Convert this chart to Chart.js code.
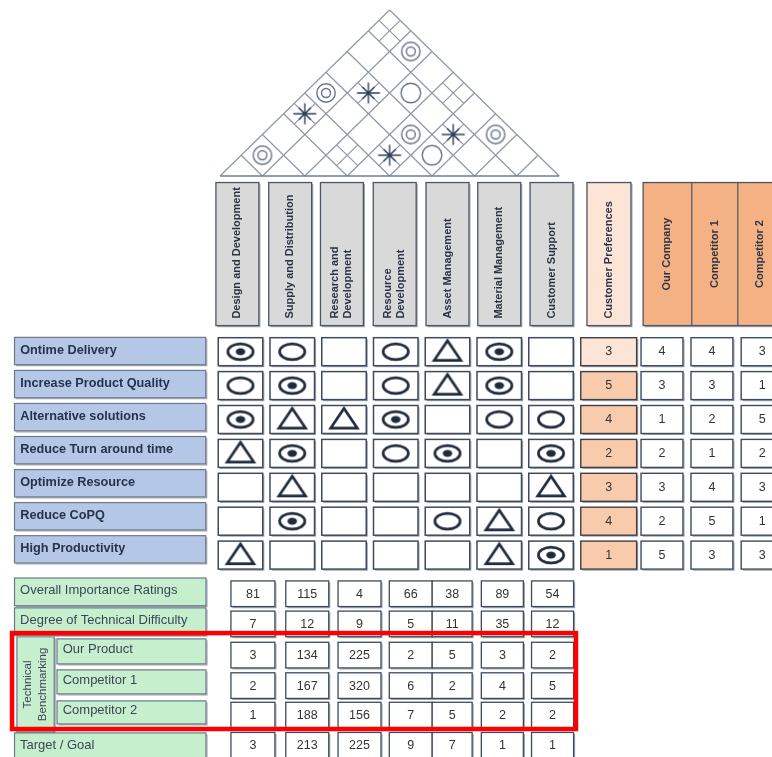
<!DOCTYPE html>
<html><head><meta charset="utf-8">
<script src="https://cdn.jsdelivr.net/npm/chart.js@4.4.1/dist/chart.umd.min.js"></script>
<style>html,body{margin:0;padding:0;background:#fff;}#wrap{width:772px;height:757px;}canvas{display:block;}</style>
</head><body><div id="wrap"><canvas id="c" width="772" height="757"></canvas></div>
<script>
// ---------------- DATA ----------------
const technicalRequirements = [["Design and Development"],["Supply and Distribution"],["Research and","Development"],["Resource","Development"],["Asset Management"],["Material Management"],["Customer Support"]];
const customerNeeds = ["Ontime Delivery","Increase Product Quality","Alternative solutions","Reduce Turn around time","Optimize Resource","Reduce CoPQ","High Productivity"];
// 9 = strong (dotted circle), 3 = medium (circle), 1 = weak (triangle), 0 = none
const relationships = [
  [9,3,0,3,1,9,0],
  [3,9,0,3,1,9,0],
  [9,1,1,9,0,3,3],
  [1,9,0,3,9,0,9],
  [0,1,0,0,0,0,1],
  [0,9,0,0,3,1,3],
  [1,0,0,0,0,1,9]
];
const preferenceHeader = "Customer Preferences";
const customerPreferences = [3,5,4,2,3,4,1];
const assessmentLabels = ["Our Company","Competitor 1","Competitor 2"];
const ourCompany  = [4,3,1,2,3,2,5];
const competitor1 = [4,3,2,1,4,5,3];
const competitor2 = [3,1,5,2,3,1,3];
const bottomRowLabels = ["Overall Importance Ratings","Degree of Technical Difficulty","Our Product","Competitor 1","Competitor 2","Target / Goal"];
const benchmarkGroupLabel = ["Technical","Benchmarking"];
const overallImportance   = [81,115,4,66,38,89,54];
const technicalDifficulty = [7,12,9,5,11,35,12];
const benchOurProduct     = [3,134,225,2,5,3,2];
const benchCompetitor1    = [2,167,320,6,2,4,5];
const benchCompetitor2    = [1,188,156,7,5,2,2];
const targetGoal          = [3,213,225,9,7,1,1];
// roof correlation cells [a, b, kind]
const roofCorrelations = [[0,1,'strong'],[0,3,'star'],[0,4,'strong'],[1,5,'star'],[1,7,'strong'],[2,6,'medium'],[3,5,'strong'],[3,4,'star'],[4,5,'medium'],[4,6,'star'],[5,7,'strong']];
const roofSplitCells = [[0,7],[3,7],[2,3]];
const roofColumns = 8;

// ---------------- LAYOUT (scale units) ----------------
const L = {
  bodyHalfW: 0.43, bodyHalfH: 0.413,
  headerTop: -4.99, headerBottom: -0.77, headerHalfW: 0.415,
  headerShift: [-0.06,-0.04,-0.04,-0.02,0,0,0.01],
  labelLeft: -4.367, labelRight: -0.672, labelText: -4.256,
  labelPitch: 0.975, labelOffset: -0.02, labelHalfH: 0.403,
  cpCenter: 7.115, cpHalfW: 0.54, cpHeadCenter: 7.12, cpHeadHalfW: 0.425,
  assessCenters: [8.145, 9.11, 10.08], assessHalfW: 0.405,
  orangeLeft: 7.78, orangeDividers: [8.72, 9.61], orangeRight: 10.6,
  orangeTextCenters: [8.25, 9.165, 10.04],
  bottomRowCenters: [7.14, 8.03, 8.95, 9.85, 10.72, 11.61], bottomHalfH: 0.378,
  bottomColCenters: [0.24, 1.29, 2.30, 3.29, 4.09, 5.06, 6.03],
  bottomColHalfW: [0.425, 0.415, 0.415, 0.415, 0.386, 0.406, 0.406],
  greenCenters: [7.084, 7.96, 8.84, 9.74, 10.64, 11.646],
  greenHalfH: [0.409, 0.403, 0.369, 0.354, 0.34, 0.40],
  greenIndent: [false, false, true, true, true, false],
  greenLeft: -4.367, greenSubLeft: -3.546, greenRight: -0.667,
  greenText: -4.26, greenSubText: -3.436,
  techLeft: -4.32, techRight: -3.60, techTop: 8.41, techBottom: 11.22,
  redLeft: -4.415, redRight: 6.483, redTop: 8.30, redBottom: 11.13
};
const FONT = '"Liberation Sans", Arial, sans-serif';
const INK = '#1f2b3d';

// ---------------- symbol images ----------------
function makeImg(w, h, draw){ const c=document.createElement('canvas'); c.width=w; c.height=h; const g=c.getContext('2d'); draw(g, w/2, h/2); return c; }
const imgStrong = makeImg(34, 26, (g,cx,cy)=>{ g.strokeStyle=INK; g.lineWidth=2.7; g.beginPath(); g.ellipse(cx,cy,12.6,7.9,0,0,Math.PI*2); g.stroke(); g.fillStyle=INK; g.beginPath(); g.ellipse(cx,cy,4.8,3.4,0,0,Math.PI*2); g.fill(); });
const imgMedium = makeImg(34, 26, (g,cx,cy)=>{ g.strokeStyle=INK; g.lineWidth=2.7; g.beginPath(); g.ellipse(cx,cy,12.6,7.9,0,0,Math.PI*2); g.stroke(); });
const imgWeak = makeImg(36, 30, (g,cx,cy)=>{ g.strokeStyle=INK; g.lineWidth=2.7; g.lineJoin='miter'; g.beginPath(); g.moveTo(cx-13.3,cy+8.6); g.lineTo(cx+13.3,cy+8.6); g.lineTo(cx,cy-11); g.closePath(); g.stroke(); });
const ROOFSYM = '#66738a';
const imgRoofStrong = makeImg(24, 24, (g,cx,cy)=>{ g.strokeStyle=ROOFSYM; g.lineWidth=1.4; g.beginPath(); g.arc(cx,cy,9.2,0,Math.PI*2); g.stroke(); g.beginPath(); g.arc(cx,cy,4.5,0,Math.PI*2); g.stroke(); });
const imgRoofMedium = makeImg(26, 26, (g,cx,cy)=>{ g.strokeStyle=ROOFSYM; g.lineWidth=1.4; g.beginPath(); g.arc(cx,cy,9.8,0,Math.PI*2); g.stroke(); });
const imgRoofStar = makeImg(28, 28, (g,cx,cy)=>{ g.strokeStyle='#33405a'; g.lineWidth=1.4; g.beginPath();
  g.moveTo(cx,cy-10.5); g.lineTo(cx,cy+10.5); g.moveTo(cx-11.5,cy); g.lineTo(cx+11.5,cy);
  g.moveTo(cx-6,cy-6); g.lineTo(cx+6,cy+6); g.moveTo(cx+6,cy-6); g.lineTo(cx-6,cy+6); g.stroke();
  g.fillStyle='#33405a'; g.beginPath(); g.arc(cx,cy,1.6,0,Math.PI*2); g.fill(); });

// ---------------- datasets ----------------
function relPoints(code){ const pts=[]; relationships.forEach((row,r)=>row.forEach((v,c)=>{ if(v===code) pts.push({x:c,y:r}); })); return pts; }
function roofPoints(kind){ return roofCorrelations.filter(d=>d[2]===kind).map(d=>({x:d[0]+d[1]+1, y:d[1]-d[0]})); }
const ds = (data, img, xa, ya) => ({data, pointStyle:img, pointRadius:3, pointHoverRadius:3, xAxisID:xa, yAxisID:ya, clip:false});

// ---------------- drawing helpers ----------------
function cell(ctx, x0, y0, x1, y1, fill, stroke, lw){
  ctx.fillStyle = fill; ctx.fillRect(x0, y0, x1-x0, y1-y0);
  ctx.strokeStyle = '#a3a8b1'; ctx.lineWidth = 1.2; ctx.beginPath();
  ctx.moveTo(x1+1, y0+1.5); ctx.lineTo(x1+1, y1+1); ctx.lineTo(x0+1.5, y1+1); ctx.stroke();
  ctx.strokeStyle = stroke; ctx.lineWidth = lw; ctx.strokeRect(x0, y0, x1-x0, y1-y0);
}
function vtext(ctx, lines, x, y, align, font, color, gap){
  ctx.save(); ctx.translate(x, y); ctx.rotate(-Math.PI/2);
  ctx.font = font; ctx.fillStyle = color; ctx.textAlign = align; ctx.textBaseline = 'middle';
  const n = lines.length;
  lines.forEach((t,i)=>{ ctx.fillText(t, align==='left'?6:0, (i-(n-1)/2)*gap); });
  ctx.restore();
}

const housePlugin = {
  id: 'house',
  beforeDatasetsDraw(chart){
    const ctx = chart.ctx, X = chart.scales.x, Y = chart.scales.y, RX = chart.scales.rx, RY = chart.scales.ry;
    const xp = v => X.getPixelForValue(v), yp = v => Y.getPixelForValue(v);
    const P = (u,v) => [RX.getPixelForValue(u), RY.getPixelForValue(v)];
    ctx.save();
    ctx.fillStyle = '#fff'; ctx.fillRect(0,0,chart.width,chart.height);
    // ---- roof ----
    const N = roofColumns;
    const seg = (a,b,c,d) => { const p=P(a,b), q=P(c,d); ctx.moveTo(p[0],p[1]); ctx.lineTo(q[0],q[1]); };
    ctx.strokeStyle = '#8e98a8'; ctx.lineWidth = 1.2; ctx.beginPath();
    seg(0,0,N,N); seg(2*N,0,N,N);
    for(let k=1;k<N;k++){ seg(2*k,0,N+k,N-k); seg(2*k,0,k,k); }
    const split = roofSplitCells.concat(roofCorrelations.filter(d=>d[2]==='star').map(d=>[d[0],d[1]]));
    split.forEach(([a,b])=>{
      const s = 2*a+1; seg((s+2*b)/2,(2*b-s)/2,(s+2*b+2)/2,(2*b+2-s)/2);
      const t = 2*b+1; seg((2*a+t)/2,(t-2*a)/2,(2*a+2+t)/2,(t-2*a-2)/2);
    });
    ctx.stroke();
    ctx.strokeStyle = '#717d90'; ctx.lineWidth = 1.5; ctx.beginPath(); seg(0,0,2*N,0); ctx.stroke();
    // ---- technical requirement headers ----
    const hTop = yp(L.headerTop), hBot = yp(L.headerBottom);
    technicalRequirements.forEach((lines,k)=>{
      const c = k + L.headerShift[k];
      cell(ctx, xp(c-L.headerHalfW), hTop, xp(c+L.headerHalfW), hBot, '#d9d9d9', '#4b5566', 1.3);
      vtext(ctx, lines, xp(c), hBot-1, 'left', 'bold 11px '+FONT, '#2b3446', 13);
    });
    cell(ctx, xp(L.cpHeadCenter-L.cpHeadHalfW), hTop, xp(L.cpHeadCenter+L.cpHeadHalfW), hBot, '#fce4d6', '#4b5566', 1.3);
    vtext(ctx, [preferenceHeader], xp(L.cpHeadCenter), hBot-1, 'left', 'bold 11px '+FONT, '#2b3446', 13);
    cell(ctx, xp(L.orangeLeft), hTop, xp(L.orangeRight), hBot, '#f4b183', '#4b5566', 1.3);
    ctx.strokeStyle = '#4b5566'; ctx.lineWidth = 1.2; ctx.beginPath();
    L.orangeDividers.forEach(d=>{ ctx.moveTo(xp(d), hTop); ctx.lineTo(xp(d), hBot); }); ctx.stroke();
    assessmentLabels.forEach((t,i)=> vtext(ctx, [t], xp(L.orangeTextCenters[i]), (hTop+hBot)/2, 'center', 'bold 11px '+FONT, '#2b3446', 13));
    // ---- body rows ----
    const assess = [ourCompany, competitor1, competitor2];
    customerNeeds.forEach((name,r)=>{
      const y0 = yp(r-L.bodyHalfH), y1 = yp(r+L.bodyHalfH);
      const lc = r*L.labelPitch + L.labelOffset;
      cell(ctx, xp(L.labelLeft), yp(lc-L.labelHalfH), xp(L.labelRight), yp(lc+L.labelHalfH), '#b4c7e7', '#6d7889', 1.2);
      ctx.font = 'bold 12.7px '+FONT; ctx.fillStyle = '#26334a'; ctx.textAlign='left'; ctx.textBaseline='middle';
      ctx.fillText(name, xp(L.labelText), yp(lc)-1);
      for(let c=0;c<7;c++) cell(ctx, xp(c-L.bodyHalfW), y0, xp(c+L.bodyHalfW), y1, '#ffffff', '#3e4a5e', 1.5);
      cell(ctx, xp(L.cpCenter-L.cpHalfW), y0, xp(L.cpCenter+L.cpHalfW), y1, r===0?'#fce4d6':'#f8cbad', '#3f3f46', 1.4);
      ctx.font = '12.5px '+FONT; ctx.fillStyle = '#333'; ctx.textAlign='center';
      ctx.fillText(String(customerPreferences[r]), xp(L.cpCenter), yp(r));
      assess.forEach((arr,i)=>{
        const cx = L.assessCenters[i];
        cell(ctx, xp(cx-L.assessHalfW), y0, xp(cx+L.assessHalfW), y1, '#ffffff', '#3e4a5e', 1.4);
        ctx.fillStyle = '#333'; ctx.fillText(String(arr[r]), xp(cx), yp(r));
      });
    });
    // ---- bottom rows ----
    const bottomRows = [overallImportance, technicalDifficulty, benchOurProduct, benchCompetitor1, benchCompetitor2, targetGoal];
    cell(ctx, xp(L.techLeft), yp(L.techTop), xp(L.techRight), yp(L.techBottom), '#c6efce', '#6d7889', 1.2);
    vtext(ctx, benchmarkGroupLabel, xp((L.techLeft+L.techRight)/2), yp((L.techTop+L.techBottom)/2), 'center', '11.5px '+FONT, '#3b4757', 15);
    bottomRowLabels.forEach((name,i)=>{
      const gc = L.greenCenters[i], gh = L.greenHalfH[i];
      const left = L.greenIndent[i] ? L.greenSubLeft : L.greenLeft;
      cell(ctx, xp(left), yp(gc-gh), xp(L.greenRight), yp(gc+gh), '#c6efce', '#6d7889', 1.2);
      ctx.font = '13px '+FONT; ctx.fillStyle = '#3b4757'; ctx.textAlign='left'; ctx.textBaseline='middle';
      ctx.fillText(name, xp(L.greenIndent[i] ? L.greenSubText : L.greenText), yp(gc)-1.5);
      const ry = L.bottomRowCenters[i];
      bottomRows[i].forEach((v,c)=>{
        const cx = L.bottomColCenters[c], hw = L.bottomColHalfW[c];
        cell(ctx, xp(cx-hw), yp(ry-L.bottomHalfH), xp(cx+hw), yp(ry+L.bottomHalfH), '#ffffff', '#3e4a5e', 1.3);
        ctx.font = '12.5px '+FONT; ctx.fillStyle = '#333'; ctx.textAlign='center';
        ctx.fillText(String(v), xp(cx), yp(ry)+0.5);
      });
    });
    ctx.restore();
  },
  afterDatasetsDraw(chart){
    const ctx = chart.ctx, X = chart.scales.x, Y = chart.scales.y;
    ctx.save(); ctx.strokeStyle = '#ff0000'; ctx.lineWidth = 4.5;
    const x0 = X.getPixelForValue(L.redLeft), x1 = X.getPixelForValue(L.redRight);
    const y0 = Y.getPixelForValue(L.redTop), y1 = Y.getPixelForValue(L.redBottom);
    ctx.strokeRect(x0, y0, x1-x0, y1-y0); ctx.restore();
  }
};

new Chart(document.getElementById('c'), {
  type: 'scatter',
  data: { datasets: [
    ds(relPoints(9), imgStrong, 'x', 'y'),
    ds(relPoints(3), imgMedium, 'x', 'y'),
    ds(relPoints(1), imgWeak, 'x', 'y'),
    ds(roofPoints('strong'), imgRoofStrong, 'rx', 'ry'),
    ds(roofPoints('medium'), imgRoofMedium, 'rx', 'ry'),
    ds(roofPoints('star'), imgRoofStar, 'rx', 'ry')
  ]},
  options: {
    responsive: false, animation: false, events: [],
    layout: { padding: 0, autoPadding: false },
    plugins: { legend: {display:false}, tooltip: {enabled:false}, title: {display:false} },
    scales: {
      x:  { type:'linear', axis:'x', position:'bottom', display:false, min:-4.6473, max:10.2705 },
      y:  { type:'linear', axis:'y', position:'left', display:false, reverse:true, min:-10.3746, max:11.9558 },
      rx: { type:'linear', axis:'x', position:'bottom', display:false, min:-10.3774, max:26.0377 },
      ry: { type:'linear', axis:'y', position:'left', display:false, min:-28.0, max:8.4819 }
    }
  },
  plugins: [housePlugin]
});
</script></body></html>
